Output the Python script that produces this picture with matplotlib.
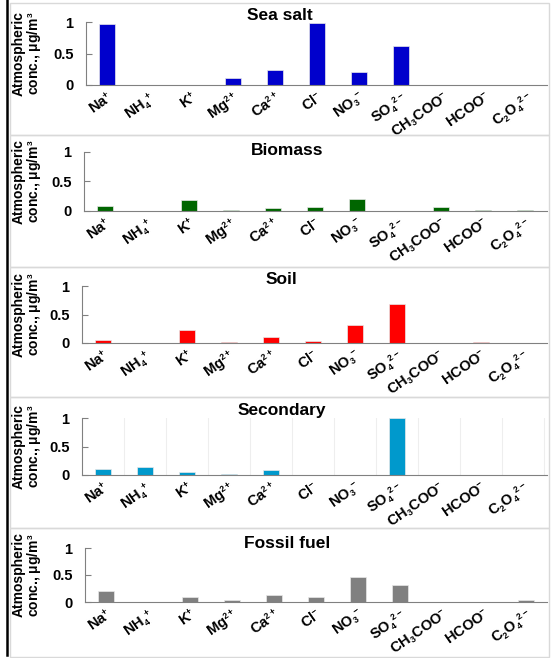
import matplotlib
matplotlib.use("Agg")
import matplotlib.pyplot as plt
import matplotlib.transforms as mtransforms
import matplotlib._mathtext as mathtext_mod
from matplotlib.patches import Rectangle
from matplotlib.lines import Line2D

plt.rcParams['font.family'] = ['Liberation Sans', 'DejaVu Sans']
plt.rcParams['font.weight'] = 'bold'
plt.rcParams['mathtext.fontset'] = 'custom'
plt.rcParams['mathtext.rm'] = 'Liberation Sans:bold'
plt.rcParams['mathtext.default'] = 'rm'
mathtext_mod.SHRINK_FACTOR = 0.6   # smaller super/subscripts, as in the original

# ions on the x axis
ions = ['Na$^{+}$', 'NH$_4$$^{+}$', 'K$^{+}$', 'Mg$^{2+}$', 'Ca$^{2+}$', 'Cl$^{-}$',
        'NO$_3$$^{-}$', 'SO$_4$$^{2-}$', 'CH$_3$COO$^{-}$', 'HCOO$^{-}$', 'C$_2$O$_4$$^{2-}$']

sources = ['Sea salt', 'Biomass', 'Soil', 'Secondary', 'Fossil fuel']
colors = ['#0000CC', '#006600', '#FF0000', '#0099CC', '#808080']

sea_salt = [0.97, 0, 0, 0.11, 0.24, 0.98, 0.20, 0.62, 0, 0, 0]
biomass = [0.09, 0, 0.18, 0.015, 0.045, 0.07, 0.21, 0, 0.065, 0.01, 0.01]
soil = [0.045, 0, 0.23, 0.015, 0.11, 0.035, 0.31, 0.69, 0, 0.01, 0]
secondary = [0.11, 0.14, 0.055, 0.01, 0.085, 0.003, 0, 1.0, 0.005, 0, 0.005]
fossil_fuel = [0.21, 0, 0.10, 0.04, 0.13, 0.09, 0.46, 0.31, 0.005, 0, 0.03]
values = [sea_salt, biomass, soil, secondary, fossil_fuel]

W, H = 551, 658
fig = plt.figure(figsize=(W / 100, H / 100), dpi=100)

# panel layout in pixels: (box top, box bottom, axis x, y of 1, y of 0, title y, title x)
layout = [(3, 135, 86, 22, 85, 15, 280),
          (135, 267, 84, 152, 211, 150, 287),
          (267, 397, 82, 286, 343, 280, 281),
          (397, 528, 82, 418, 475, 410, 282),
          (528, 657, 85, 548, 602, 543, 287)]
step = 42.0   # px per category
right = 547

for i, (src, col, vals) in enumerate(zip(sources, colors, values)):
    btop, bbot, x0, y1, y0, ty, tx = layout[i]
    fig.patches.append(Rectangle((10 / W, 1 - bbot / H), 539 / W, (bbot - btop) / H,
                                 transform=fig.transFigure, fill=False,
                                 edgecolor='#d9d9d9', linewidth=1.0, zorder=0))
    ax = fig.add_axes([x0 / W, 1 - y0 / H, (right - x0) / W, (y0 - y1) / H])
    x = list(range(len(ions)))
    ax.bar(x, vals, width=0.4, color=col, edgecolor='#e8e8e8', linewidth=0.5, zorder=2)
    ax.set_xlim(-0.5, (right - x0) / step - 0.5)
    ax.set_ylim(0, 1)
    ax.set_yticks([0, 0.5, 1])
    ax.set_yticklabels(['0', '0.5', '1'], fontsize=10.5, fontweight='bold')
    ax.set_xticks(x)
    ax.set_xticklabels(ions, rotation=35, ha='right', rotation_mode='anchor',
                       fontsize=10.5, fontweight='bold')
    off = mtransforms.ScaledTranslation(0.03, 0, fig.dpi_scale_trans)
    for lab in ax.get_xticklabels():
        lab.set_transform(lab.get_transform() + off)
    ax.tick_params(axis='x', length=0, pad=3)
    ax.tick_params(axis='y', direction='in', length=4, color='#808080', pad=9)
    for s in ['top', 'right']:
        ax.spines[s].set_visible(False)
    ax.spines['left'].set_color('#808080')
    ax.spines['bottom'].set_color('#808080')
    ax.patch.set_alpha(0)
    if src == 'Secondary':
        ax.set_xticks([k + 0.5 for k in x], minor=True)
        ax.tick_params(axis='x', which='minor', length=0)
        ax.grid(True, which='minor', axis='x', color='#eeeeee', linewidth=0.8, zorder=0)
    fig.text(tx / W, 1 - ty / H, src, ha='center', va='center', fontsize=12.5, fontweight='bold')
    fig.text(28 / W, 1 - (y1 + y0) / 2 / H, 'Atmospheric\nconc., μg/m$^3$', rotation=90,
             ha='center', va='center', multialignment='center', fontsize=10,
             fontweight='bold', linespacing=1.0,
             family=['Liberation Sans Narrow', 'Liberation Sans'])

# black bar at the left edge
fig.lines.append(Line2D([7 / W, 7 / W], [1 - 655 / H, 1], transform=fig.transFigure,
                        color='black', linewidth=1.8))

fig.savefig('out.png', dpi=100)
